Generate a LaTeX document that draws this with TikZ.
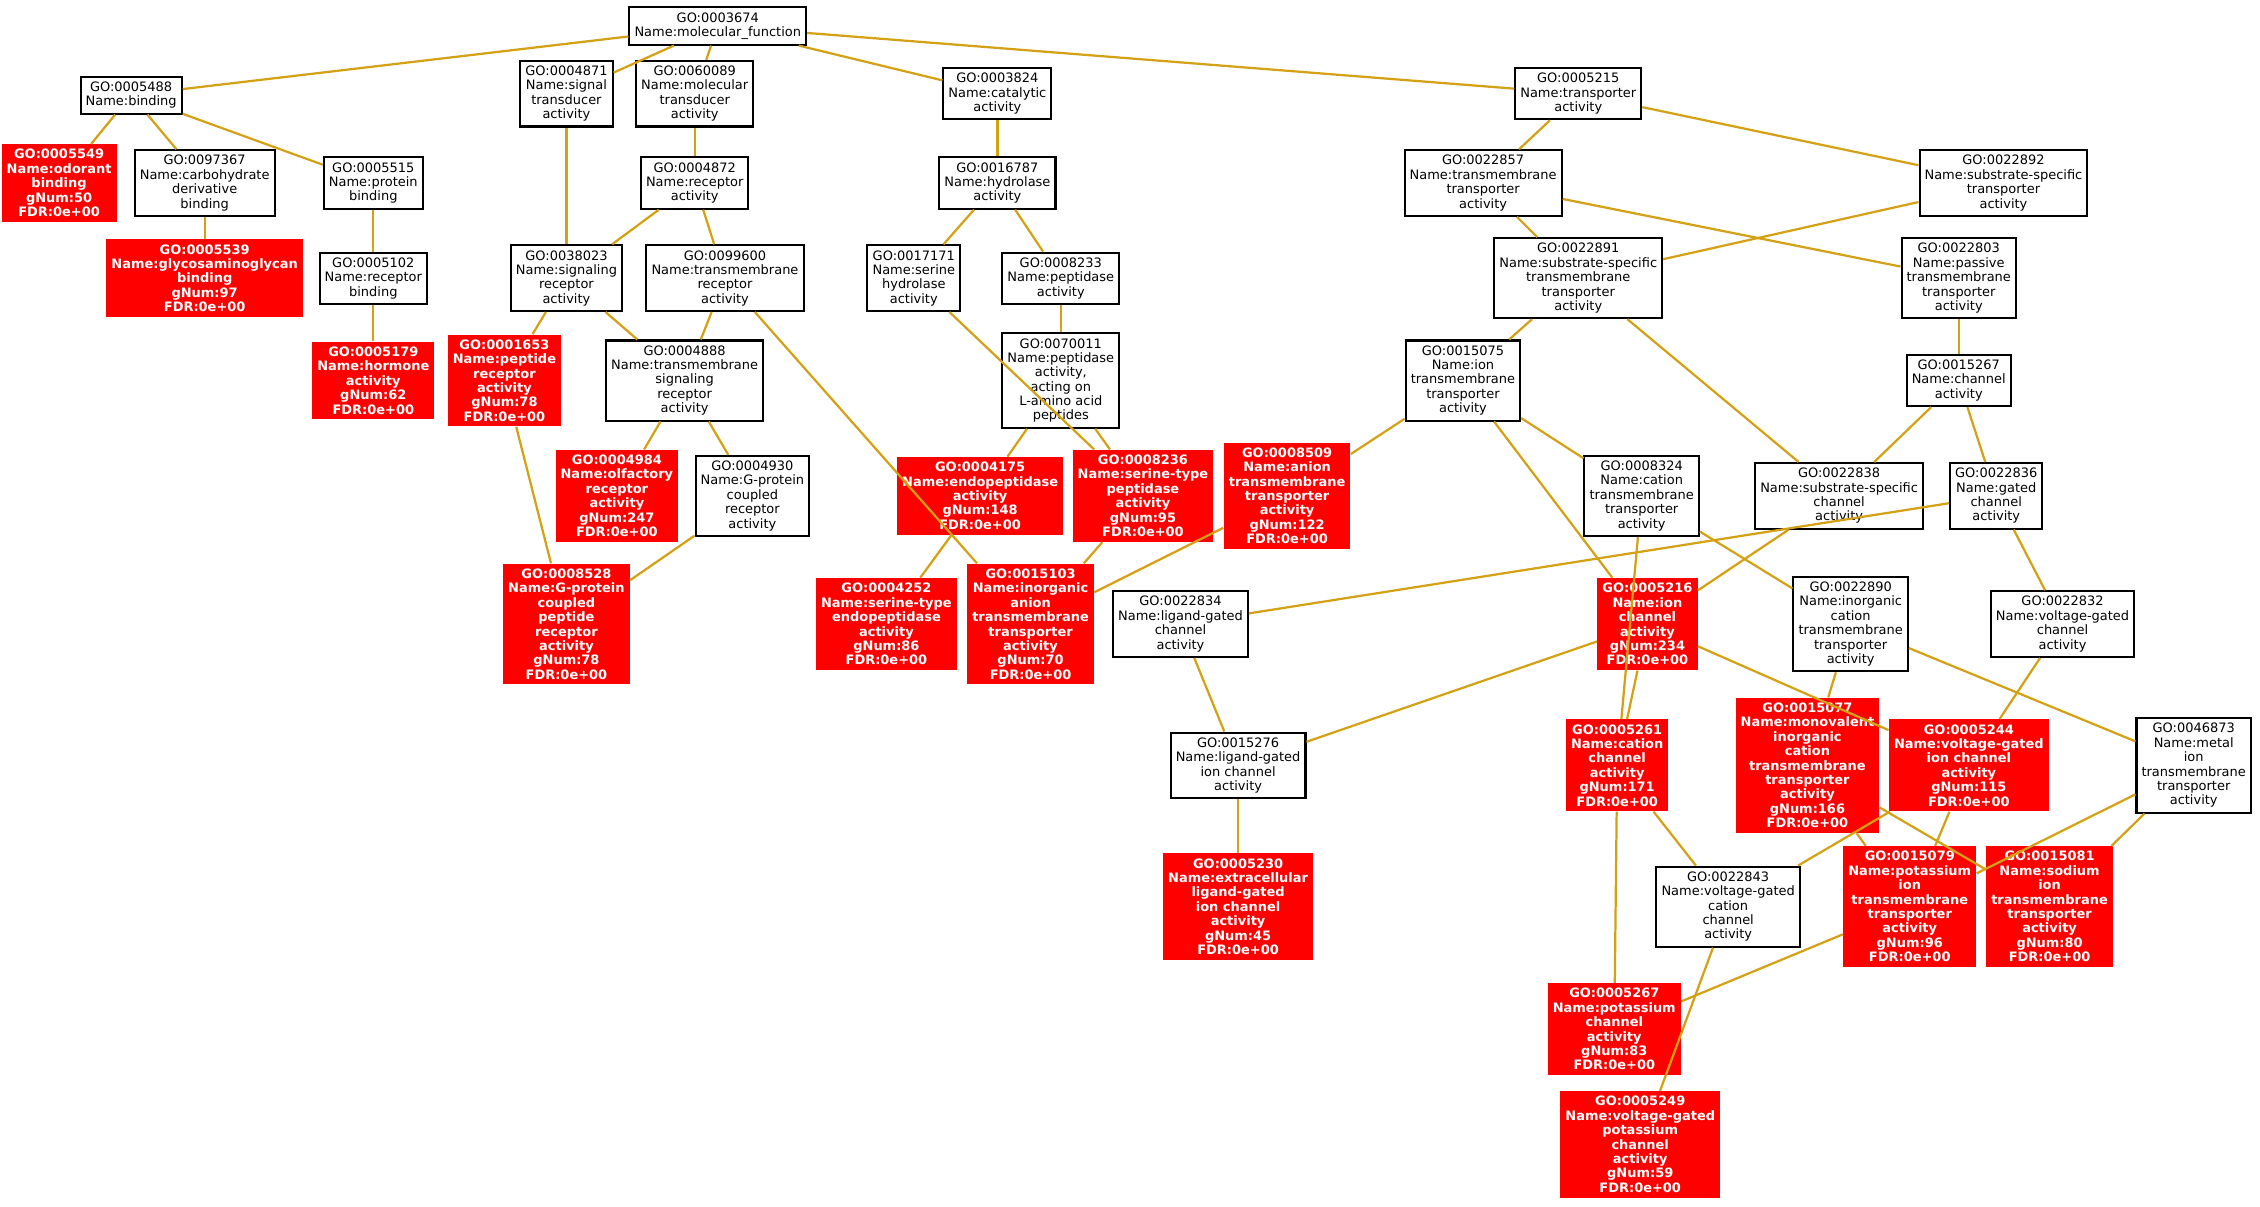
\documentclass[tikz,border=0pt]{standalone}
\usepackage{fontspec}
\setmainfont{DejaVu Sans}
\definecolor{edgegold}{RGB}{212,160,20}
\definecolor{hitred}{RGB}{255,0,0}
\tikzset{
  term/.style={draw=black,line width=1pt,fill=white,align=center,inner sep=2.5pt,
    font=\fontsize{6.4}{7.1}\selectfont},
  hit/.style={fill=hitred,text=white,align=center,inner sep=2.5pt,
    font=\fontsize{6.4}{7.1}\selectfont\bfseries},
  link/.style={draw=edgegold,line width=1.1pt}
}
\begin{document}
\begin{tikzpicture}[x=0.025cm,y=-0.025cm]
\useasboundingbox (0,0) rectangle (1568,837);
% terms
\node[term] (n3674) at (498,18) {GO:0003674\\Name:molecular\_function};
\node[term] (n5488) at (91,66) {GO:0005488\\Name:binding};
\node[term] (n4871) at (393,65) {GO:0004871\\Name:signal\\transducer\\activity};
\node[term] (n60089) at (482,65) {GO:0060089\\Name:molecular\\transducer\\activity};
\node[term] (n3824) at (692,65) {GO:0003824\\Name:catalytic\\activity};
\node[term] (n5215) at (1095,65) {GO:0005215\\Name:transporter\\activity};
\node[hit] (n5549) at (41,127) {GO:0005549\\Name:odorant\\binding\\gNum:50\\FDR:0e+00};
\node[term] (n97367) at (142,127) {GO:0097367\\Name:carbohydrate\\derivative\\binding};
\node[term] (n5515) at (259,127) {GO:0005515\\Name:protein\\binding};
\node[term] (n4872) at (482,127) {GO:0004872\\Name:receptor\\activity};
\node[term] (n16787) at (692,127) {GO:0016787\\Name:hydrolase\\activity};
\node[term] (n22857) at (1029,127) {GO:0022857\\Name:transmembrane\\transporter\\activity};
\node[term] (n22892) at (1390,127) {GO:0022892\\Name:substrate-specific\\transporter\\activity};
\node[hit] (n5539) at (142,193) {GO:0005539\\Name:glycosaminoglycan\\binding\\gNum:97\\FDR:0e+00};
\node[term] (n5102) at (259,193) {GO:0005102\\Name:receptor\\binding};
\node[term] (n38023) at (393,193) {GO:0038023\\Name:signaling\\receptor\\activity};
\node[term] (n99600) at (503,193) {GO:0099600\\Name:transmembrane\\receptor\\activity};
\node[term] (n17171) at (634,193) {GO:0017171\\Name:serine\\hydrolase\\activity};
\node[term] (n8233) at (736,193) {GO:0008233\\Name:peptidase\\activity};
\node[term] (n22891) at (1095,193) {GO:0022891\\Name:substrate-specific\\transmembrane\\transporter\\activity};
\node[term] (n22803) at (1359,193) {GO:0022803\\Name:passive\\transmembrane\\transporter\\activity};
\node[hit] (n5179) at (259,264) {GO:0005179\\Name:hormone\\activity\\gNum:62\\FDR:0e+00};
\node[hit] (n1653) at (350,264) {GO:0001653\\Name:peptide\\receptor\\activity\\gNum:78\\FDR:0e+00};
\node[term] (n4888) at (475,264) {GO:0004888\\Name:transmembrane\\signaling\\receptor\\activity};
\node[term] (n70011) at (736,264) {GO:0070011\\Name:peptidase\\activity,\\acting on\\L-amino acid\\peptides};
\node[term] (n15075) at (1015,264) {GO:0015075\\Name:ion\\transmembrane\\transporter\\activity};
\node[term] (n15267) at (1359,264) {GO:0015267\\Name:channel\\activity};
\node[hit] (n8509) at (893,344) {GO:0008509\\Name:anion\\transmembrane\\transporter\\activity\\gNum:122\\FDR:0e+00};
\node[hit] (n4984) at (428,344) {GO:0004984\\Name:olfactory\\receptor\\activity\\gNum:247\\FDR:0e+00};
\node[term] (n4930) at (522,344) {GO:0004930\\Name:G-protein\\coupled\\receptor\\activity};
\node[hit] (n4175) at (680,344) {GO:0004175\\Name:endopeptidase\\activity\\gNum:148\\FDR:0e+00};
\node[hit] (n8236) at (793,344) {GO:0008236\\Name:serine-type\\peptidase\\activity\\gNum:95\\FDR:0e+00};
\node[term] (n8324) at (1139,344) {GO:0008324\\Name:cation\\transmembrane\\transporter\\activity};
\node[term] (n22838) at (1276,344) {GO:0022838\\Name:substrate-specific\\channel\\activity};
\node[term] (n22836) at (1385,344) {GO:0022836\\Name:gated\\channel\\activity};
\node[hit] (n8528) at (393,433) {GO:0008528\\Name:G-protein\\coupled\\peptide\\receptor\\activity\\gNum:78\\FDR:0e+00};
\node[hit] (n4252) at (615,433) {GO:0004252\\Name:serine-type\\endopeptidase\\activity\\gNum:86\\FDR:0e+00};
\node[hit] (n15103) at (715,433) {GO:0015103\\Name:inorganic\\anion\\transmembrane\\transporter\\activity\\gNum:70\\FDR:0e+00};
\node[term] (n22834) at (819,433) {GO:0022834\\Name:ligand-gated\\channel\\activity};
\node[hit] (n5216) at (1143,433) {GO:0005216\\Name:ion\\channel\\activity\\gNum:234\\FDR:0e+00};
\node[term] (n22890) at (1284,433) {GO:0022890\\Name:inorganic\\cation\\transmembrane\\transporter\\activity};
\node[term] (n22832) at (1431,433) {GO:0022832\\Name:voltage-gated\\channel\\activity};
\node[term] (n15276) at (859,531) {GO:0015276\\Name:ligand-gated\\ion channel\\activity};
\node[hit] (n5261) at (1122,531) {GO:0005261\\Name:cation\\channel\\activity\\gNum:171\\FDR:0e+00};
\node[hit] (n15077) at (1254,531) {GO:0015077\\Name:monovalent\\inorganic\\cation\\transmembrane\\transporter\\activity\\gNum:166\\FDR:0e+00};
\node[hit] (n5244) at (1366,531) {GO:0005244\\Name:voltage-gated\\ion channel\\activity\\gNum:115\\FDR:0e+00};
\node[term] (n46873) at (1522,531) {GO:0046873\\Name:metal\\ion\\transmembrane\\transporter\\activity};
\node[hit] (n5230) at (859,629) {GO:0005230\\Name:extracellular\\ligand-gated\\ion channel\\activity\\gNum:45\\FDR:0e+00};
\node[term] (n22843) at (1199,629) {GO:0022843\\Name:voltage-gated\\cation\\channel\\activity};
\node[hit] (n15079) at (1325,629) {GO:0015079\\Name:potassium\\ion\\transmembrane\\transporter\\activity\\gNum:96\\FDR:0e+00};
\node[hit] (n15081) at (1422,629) {GO:0015081\\Name:sodium\\ion\\transmembrane\\transporter\\activity\\gNum:80\\FDR:0e+00};
\node[hit] (n5267) at (1120,714) {GO:0005267\\Name:potassium\\channel\\activity\\gNum:83\\FDR:0e+00};
\node[hit] (n5249) at (1138,794) {GO:0005249\\Name:voltage-gated\\potassium\\channel\\activity\\gNum:59\\FDR:0e+00};
% links
\begin{scope}[on background layer/.style={}]
\foreach \a/\b in {3674/5488,3674/4871,3674/60089,3674/3824,3674/5215,
  5488/5549,5488/97367,5488/5515,97367/5539,5515/5102,5102/5179,
  4871/38023,60089/4872,4872/38023,4872/99600,38023/4888,99600/4888,
  38023/1653,1653/8528,4888/4984,4888/4930,4930/8528,99600/15103,
  3824/16787,16787/17171,16787/8233,8233/70011,17171/8236,70011/4175,
  70011/8236,4175/4252,8236/15103,8509/15103,
  5215/22857,5215/22892,22857/22891,22857/22803,22892/22891,22891/15075,
  22891/22838,22803/15267,15267/22838,15267/22836,15075/8509,15075/8324,
  15075/5216,8324/5261,8324/22890,22838/5216,22836/22834,22836/22832,
  22834/15276,5216/15276,5216/5261,5216/5244,22890/15077,22890/46873,
  22832/5244,15276/5230,46873/15079,46873/15081,15077/15079,15077/15081,
  5244/22843,5261/22843,5261/5267,22843/5249,15079/5267,5244/15079}
  \draw[link] (n\a) -- (n\b);
\end{scope}
% redraw nodes above links
\end{tikzpicture}
\end{document}
